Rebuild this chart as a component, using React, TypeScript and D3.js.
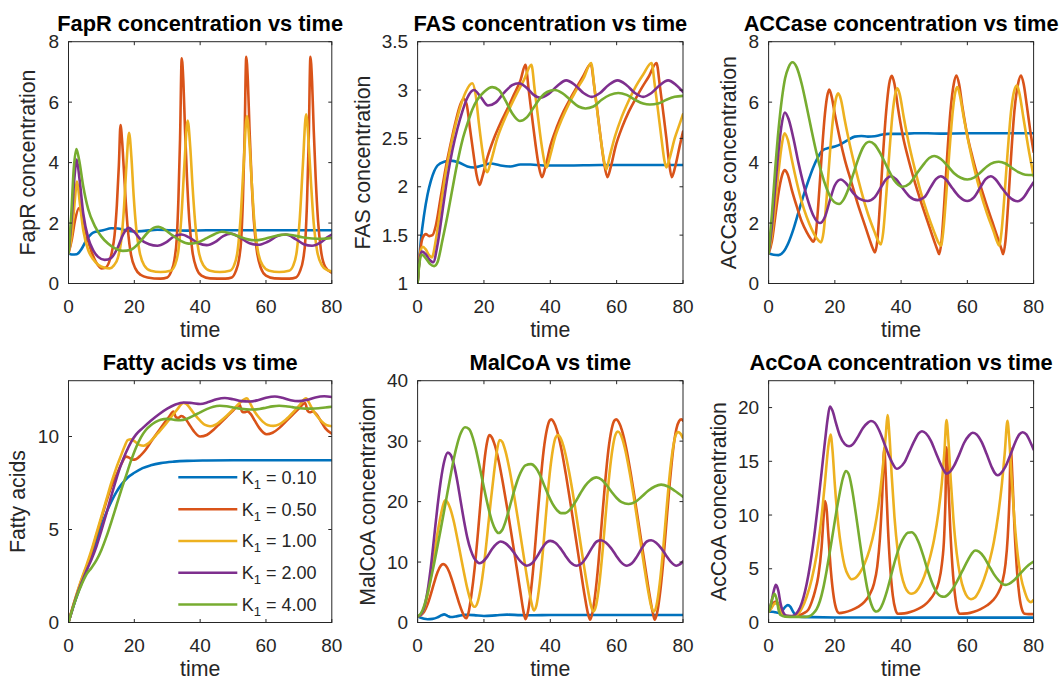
import React from 'react';
import * as d3 from 'd3';

type Pt = [number, number];

const COLORS = ['#0072BD', '#D95319', '#EDB120', '#7E2F8E', '#77AC30'];
const K_LABELS = ['0.10', '0.50', '1.00', '2.00', '4.00'];
const TIME_TICKS = [0, 20, 40, 60, 80];

// ---------- FapR ----------
const faprK010: Pt[] = [[0,1.0],[1,0.96],[2.5,0.97],[4,1.15],[5.5,1.45],[7,1.65],[8.5,1.72],[10.5,1.76],[13,1.83],[15,1.82],[17,1.77],[20,1.72],[23,1.74],[27,1.78],[31,1.76],[36,1.75],[42,1.76],[50,1.76],[60,1.76],[70,1.76],[80,1.76]];
const faprK050: Pt[] = [[0,1.0],[1,1.45],[2,2.1],[3.2,2.5],[4.3,2.2],[5.5,1.6],[7,1.05],[8.5,0.68],[10,0.5],[11.2,0.52],[12.3,0.7],[13.2,1.05],[14,1.6],[14.7,2.6],[15.3,3.9],[15.8,5.24],[16.3,4.7],[16.8,3.8],[17.4,2.7],[18.1,1.7],[19,0.95],[20.3,0.5],[22,0.28],[24,0.2],[28,0.16],[30,0.2],[31.2,0.4],[32.2,0.8],[32.9,1.5],[33.4,2.8],[33.9,4.8],[34.4,7.45],[34.9,6.7],[35.4,5.1],[36,3.5],[36.7,2.1],[37.6,1.1],[38.9,0.5],[40.4,0.26],[43,0.17],[47.6,0.16],[49.6,0.2],[50.8,0.4],[51.8,0.8],[52.5,1.5],[53,2.8],[53.5,4.8],[54,7.5],[54.5,6.7],[55,5.1],[55.6,3.5],[56.3,2.1],[57.2,1.1],[58.5,0.5],[60,0.26],[62.6,0.17],[67.1,0.16],[69.1,0.2],[70.3,0.4],[71.3,0.8],[72,1.5],[72.5,2.8],[73,4.8],[73.5,7.5],[74,6.7],[74.5,5.1],[75.1,3.5],[75.8,2.1],[76.7,1.1],[78,0.55],[80,0.35]];
const faprK100: Pt[] = [[0,1.0],[1,1.6],[1.8,2.6],[2.6,3.37],[3.4,2.7],[4.5,1.75],[6,1.1],[7.5,0.8],[9,0.62],[11,0.52],[12.5,0.5],[13.8,0.6],[15,0.85],[16,1.4],[16.8,2.4],[17.6,3.9],[18.4,4.99],[19.1,4.2],[19.8,2.9],[20.6,1.8],[21.6,1.05],[23,0.6],[25,0.42],[28,0.38],[31,0.42],[32.3,0.6],[33.4,1.1],[34.3,2.2],[35.2,3.9],[36.2,5.39],[37,4.5],[37.7,3.2],[38.5,2.0],[39.5,1.1],[41,0.6],[43,0.42],[46,0.38],[49,0.42],[50.3,0.6],[51.4,1.1],[52.3,2.2],[53.2,3.9],[54.2,5.54],[55,4.6],[55.7,3.3],[56.5,2.0],[57.5,1.1],[59,0.6],[61,0.42],[64,0.38],[67,0.42],[68.3,0.6],[69.4,1.1],[70.3,2.2],[71.2,3.9],[72.2,5.6],[73,4.6],[73.7,3.3],[74.5,2.0],[75.5,1.1],[77,0.6],[78.5,0.45],[80,0.4]];
const faprK200: Pt[] = [[0,1.0],[1,2.2],[1.8,3.5],[2.5,4.1],[3.3,3.5],[4.5,2.3],[6,1.5],[7.5,1.1],[9,0.88],[11,0.78],[13,0.85],[15,1.2],[16.5,1.6],[18.2,1.84],[20,1.7],[22,1.45],[24.5,1.3],[27,1.25],[29.5,1.35],[32,1.55],[34.3,1.62],[37,1.5],[39.5,1.33],[42,1.27],[44.5,1.37],[47,1.57],[49.3,1.65],[52,1.53],[55,1.33],[57.7,1.28],[60.5,1.38],[63.5,1.57],[66,1.62],[69,1.47],[71.5,1.3],[74,1.25],[76.5,1.35],[78.5,1.52],[80,1.62]];
const faprK400: Pt[] = [[0,1.0],[0.8,2.2],[1.6,3.8],[2.4,4.45],[3.2,4.1],[4.5,3.2],[6,2.45],[8,1.9],[10,1.55],[12,1.32],[14,1.17],[16.5,1.08],[19,1.12],[21.5,1.35],[24,1.68],[26,1.85],[27.3,1.88],[29,1.8],[31.5,1.6],[34,1.42],[36.5,1.32],[39,1.35],[42,1.5],[44.5,1.64],[46.6,1.71],[49,1.66],[52,1.55],[54.5,1.46],[56.7,1.43],[59,1.46],[62,1.55],[64.5,1.61],[66.3,1.62],[68.5,1.59],[71,1.53],[74,1.49],[77,1.48],[80,1.51]];

// ---------- FAS ----------
const fasK010: Pt[] = [[0,1.0],[0.5,1.25],[1,1.45],[2,1.72],[3,1.92],[4,2.06],[5,2.16],[6,2.22],[8,2.26],[10,2.27],[12.5,2.25],[15,2.21],[17,2.2],[19.5,2.22],[22,2.24],[25,2.22],[28,2.21],[31,2.23],[34,2.23],[38,2.22],[45,2.22],[55,2.225],[80,2.225]];
const fasK050: Pt[] = [[0,1.0],[0.7,1.3],[1.5,1.47],[2.5,1.51],[3.5,1.49],[4.5,1.5],[5.5,1.6],[7,1.9],[8.5,2.2],[10,2.45],[11.5,2.68],[13,2.86],[13.9,2.91],[14.8,2.85],[15.8,2.6],[16.8,2.35],[17.8,2.12],[18.7,2.02],[19.5,2.1],[21,2.3],[23,2.5],[25,2.66],[27,2.8],[29,2.95],[31,3.1],[32.5,3.26],[33.5,3.0],[34.5,2.72],[35.5,2.45],[36.5,2.22],[37.5,2.1],[38.5,2.2],[40,2.42],[42,2.62],[44,2.78],[46,2.91],[48,3.03],[50,3.15],[52.2,3.27],[53.2,3.05],[54.2,2.78],[55.2,2.5],[56.2,2.25],[57.2,2.1],[58.2,2.2],[59.7,2.42],[61.7,2.62],[63.7,2.78],[65.7,2.91],[67.7,3.03],[69.7,3.14],[72,3.28],[73,3.05],[74,2.78],[75,2.5],[75.8,2.25],[76.6,2.1],[77.6,2.2],[79,2.42],[80,2.57]];
const fasK100: Pt[] = [[0,1.0],[0.6,1.28],[1.5,1.38],[2.5,1.35],[3.5,1.29],[4.3,1.27],[5.5,1.45],[7,1.8],[8.5,2.15],[10,2.42],[11.5,2.65],[13,2.84],[14.5,2.98],[16.5,3.07],[17.5,2.95],[18.5,2.65],[19.5,2.38],[20.5,2.18],[21,2.15],[22,2.25],[24,2.5],[26,2.68],[28,2.83],[30,2.97],[32,3.1],[34.3,3.26],[35.3,3.0],[36.3,2.72],[37.3,2.45],[38.3,2.25],[38.9,2.2],[39.8,2.3],[41.5,2.52],[43.5,2.7],[45.5,2.85],[47.5,2.98],[50,3.12],[52.3,3.28],[53.3,3.02],[54.3,2.74],[55.3,2.47],[56.3,2.25],[56.9,2.18],[57.8,2.3],[59.5,2.52],[61.5,2.72],[63.5,2.88],[65.5,3.02],[68,3.16],[70.5,3.28],[71.5,3.05],[72.5,2.78],[73.5,2.5],[74.4,2.27],[75,2.2],[76,2.3],[77.5,2.5],[79,2.65],[80,2.75]];
const fasK200: Pt[] = [[0,1.0],[0.6,1.25],[1.3,1.33],[2.5,1.3],[3.5,1.25],[4.7,1.22],[6,1.4],[7.5,1.75],[9,2.1],[10.5,2.38],[12,2.6],[13.5,2.78],[15,2.92],[17,3.0],[19,2.93],[21.2,2.84],[23.5,2.87],[26,2.97],[28.5,3.05],[30.5,3.07],[33,3.02],[35,2.95],[37,2.92],[39.5,2.96],[42,3.04],[44.8,3.1],[47.5,3.05],[50,2.97],[52.5,2.93],[55,2.97],[57.5,3.05],[60.3,3.1],[63,3.05],[65.5,2.97],[68,2.93],[70.5,2.97],[73,3.05],[75.5,3.1],[78,3.05],[80,2.98]];
const fasK400: Pt[] = [[0,1.0],[0.6,1.22],[1.2,1.3],[2.5,1.26],[3.8,1.2],[5,1.18],[6,1.22],[7.5,1.45],[9,1.7],[10.5,1.98],[12,2.25],[13.5,2.48],[15,2.65],[16.5,2.8],[18,2.9],[20,2.98],[22.5,3.03],[24.5,3.0],[26.5,2.89],[28.5,2.76],[30.8,2.68],[33,2.72],[35,2.82],[37,2.92],[39,2.98],[41.4,3.0],[43.5,2.97],[46,2.9],[48.5,2.83],[50.6,2.81],[53,2.83],[55.5,2.9],[58,2.95],[60.5,2.97],[63,2.95],[65.5,2.9],[68,2.86],[70,2.85],[72.5,2.86],[75,2.9],[77.5,2.93],[80,2.94]];

// ---------- ACCase ----------
const accK010: Pt[] = [[0,1.0],[1.5,0.95],[3,0.94],[4.5,1.05],[6,1.35],[7.5,1.8],[9,2.35],[10.5,2.9],[12,3.4],[13.5,3.85],[15,4.2],[16.5,4.42],[18,4.48],[20,4.53],[22,4.62],[24,4.75],[26,4.86],[28,4.88],[30,4.86],[32,4.87],[34,4.92],[36,4.95],[40,4.95],[44,4.97],[48,4.97],[52,4.96],[60,4.97],[80,4.97]];
const accK050: Pt[] = [[0,1.0],[1,1.4],[2,2.2],[3,3.0],[4,3.55],[4.8,3.75],[5.8,3.6],[7,3.1],[8.5,2.55],[10,2.05],[11.5,1.7],[12.7,1.48],[13.5,1.38],[14.2,1.6],[15,2.6],[16,4.2],[17,5.6],[17.7,6.2],[18.3,6.42],[19,6.2],[20,5.6],[21.5,4.8],[23,4.1],[25,3.35],[27,2.6],[29,1.95],[30.5,1.45],[31.5,1.15],[32.1,1.03],[32.8,1.4],[33.6,2.6],[34.5,4.2],[35.5,5.7],[36.4,6.6],[37.2,6.87],[38,6.6],[39,5.85],[40.5,4.9],[42,4.2],[44,3.4],[46,2.7],[48,2.05],[50,1.4],[51,1.1],[51.5,0.97],[52.2,1.4],[53,2.6],[53.9,4.2],[54.9,5.7],[55.9,6.6],[56.7,6.88],[57.5,6.6],[58.5,5.85],[60,4.9],[61.5,4.2],[63.5,3.4],[65.5,2.7],[67.5,2.05],[69.5,1.4],[70.4,1.1],[70.8,0.97],[71.5,1.4],[72.3,2.6],[73.2,4.2],[74.2,5.7],[75.3,6.6],[76.2,6.88],[77,6.6],[78,5.85],[79,5.05],[80,4.35]];
const accK100: Pt[] = [[0,1.0],[1,1.6],[2,2.6],[3,3.7],[4,4.6],[4.8,4.97],[5.8,4.75],[7,4.1],[8.5,3.35],[10,2.7],[11.5,2.2],[13,1.8],[14.5,1.5],[15.8,1.36],[16.6,1.7],[17.5,2.8],[18.5,4.3],[19.5,5.5],[20.3,6.1],[21,6.29],[21.8,6.1],[23,5.4],[24.5,4.6],[26,3.9],[28,3.05],[30,2.3],[32,1.7],[33.2,1.38],[33.9,1.29],[34.6,1.7],[35.5,2.9],[36.5,4.4],[37.5,5.7],[38.3,6.3],[38.9,6.46],[39.6,6.25],[40.8,5.5],[42.3,4.65],[44,3.85],[46,3.0],[48,2.3],[50,1.7],[51.3,1.35],[52,1.25],[52.7,1.7],[53.6,2.9],[54.6,4.4],[55.6,5.7],[56.4,6.35],[57,6.5],[57.7,6.25],[58.9,5.5],[60.4,4.65],[62,3.85],[64,3.0],[66,2.3],[68,1.7],[69,1.38],[69.6,1.25],[70.3,1.7],[71.2,2.9],[72.2,4.4],[73.2,5.7],[74.2,6.4],[75,6.55],[75.7,6.3],[76.9,5.5],[78.4,4.5],[80,3.55]];
const accK200: Pt[] = [[0,1.0],[1,1.9],[2,3.2],[3,4.4],[4,5.3],[4.9,5.66],[6,5.45],[7.5,4.8],[9,4.0],[10.5,3.3],[12,2.7],[13.5,2.25],[15.5,2.0],[17,2.2],[18.5,2.75],[20,3.25],[21.8,3.44],[23.5,3.3],[25.5,3.0],[27.5,2.8],[29.9,2.73],[32,2.85],[34,3.2],[35.5,3.45],[36.9,3.55],[38.5,3.45],[40.5,3.15],[42.5,2.88],[45,2.76],[47,2.85],[49,3.2],[50.5,3.45],[52,3.55],[53.5,3.45],[55.5,3.15],[57.5,2.88],[60,2.73],[62,2.85],[64,3.2],[65.5,3.45],[67.1,3.55],[68.5,3.45],[70.5,3.15],[72.5,2.88],[75.2,2.72],[77,2.85],[78.5,3.1],[80,3.35]];
const accK400: Pt[] = [[0,1.0],[1,2.3],[2,3.8],[3,5.1],[4,6.1],[5,6.8],[6,7.15],[7.2,7.32],[8.5,7.15],[10,6.6],[11.5,5.85],[13,5.05],[14.5,4.3],[16,3.65],[17.5,3.15],[19,2.8],[20.5,2.65],[21.3,2.63],[22.5,2.75],[24,3.1],[25.5,3.6],[27,4.1],[28.5,4.5],[30.4,4.69],[32,4.6],[34,4.25],[36,3.8],[38,3.4],[40.4,3.2],[42.5,3.3],[44.5,3.6],[46.5,3.9],[48.5,4.15],[50,4.22],[52,4.12],[54,3.9],[56,3.65],[58,3.5],[60,3.44],[62,3.5],[64,3.68],[66,3.88],[68,4.0],[69.5,4.03],[71.5,3.97],[73.5,3.82],[75.5,3.68],[77.5,3.6],[80,3.59]];

// ---------- Fatty acids ----------
const faK010: Pt[] = [[0,0],[1,0.6],[2.5,1.4],[4,2.15],[5.5,2.85],[7,3.6],[8.5,4.4],[10,5.2],[11.5,5.9],[13,6.5],[14.5,7.0],[16,7.4],[18,7.8],[20,8.05],[22.5,8.3],[25,8.45],[28,8.57],[32,8.65],[36,8.69],[42,8.71],[50,8.72],[80,8.72]];
const faK050: Pt[] = [[0,0],[1,0.65],[2.5,1.5],[4,2.3],[5.5,3.0],[7,3.8],[8.5,4.7],[10,5.6],[11.5,6.5],[13,7.3],[14.5,7.9],[16,8.5],[17.5,8.92],[18.5,8.85],[19.5,8.75],[20.5,8.78],[22,9.0],[23.5,9.3],[25,9.7],[27,10.2],[29,10.7],[30.5,11.05],[31.9,11.34],[32.6,11.05],[33.3,11.0],[34.3,11.1],[35.3,11.0],[36.5,10.7],[38,10.3],[40,10.0],[42,10.08],[44,10.35],[46,10.7],[48,11.05],[50,11.4],[51.5,11.65],[52,11.7],[52.7,11.35],[53.4,11.3],[54.4,11.35],[55.4,11.2],[56.6,10.85],[58,10.45],[60.2,10.12],[62,10.2],[64,10.45],[66,10.8],[68,11.15],[70,11.5],[71.9,11.8],[72.6,11.4],[73.3,11.3],[74.3,11.35],[75.3,11.2],[76.6,10.85],[78,10.45],[80,10.15]];
const faK100: Pt[] = [[0,0],[1,0.65],[2.5,1.55],[4,2.35],[5.5,3.1],[7,3.9],[8.5,4.8],[10,5.7],[11.5,6.6],[13,7.5],[14.5,8.3],[16,9.0],[17,9.45],[18,9.8],[19,9.85],[20,9.75],[21.5,9.55],[22.8,9.5],[24,9.6],[25.5,9.85],[27,10.15],[29,10.55],[31,11.0],[33,11.45],[34.9,11.8],[35.8,11.75],[37,11.5],[38.5,11.15],[40,10.85],[41.5,10.62],[43,10.55],[44.5,10.62],[46,10.8],[48,11.1],[50,11.45],[52,11.8],[54.2,12.06],[55,11.85],[56,11.5],[57.5,11.1],[59,10.8],[60.5,10.62],[62.3,10.57],[64,10.65],[66,10.9],[68,11.25],[70,11.65],[72.2,12.05],[73,11.85],[74,11.5],[75.5,11.1],[77,10.8],[78.5,10.6],[80,10.55]];
const faK200: Pt[] = [[0,0],[1,0.6],[2.5,1.45],[4,2.15],[5.5,2.8],[7,3.4],[8.5,4.1],[10,4.95],[11.5,5.85],[13,6.8],[14.5,7.7],[16,8.5],[17.5,9.15],[19,9.7],[20.5,10.1],[22.5,10.45],[25,10.85],[27.5,11.2],[30,11.5],[32.5,11.72],[35,11.83],[37.5,11.8],[40,11.75],[42.5,11.85],[45,12.0],[47.5,12.07],[50,12.0],[52.5,11.9],[55,11.88],[57.5,11.95],[60,12.08],[62.7,12.15],[65,12.08],[67.5,11.95],[70,11.9],[72.5,11.97],[75,12.1],[77.7,12.16],[80,12.12]];
const faK400: Pt[] = [[0,0],[1,0.6],[2.5,1.4],[4,2.05],[5.5,2.6],[7,2.95],[8.5,3.35],[10,3.9],[11.5,4.6],[13,5.4],[14.5,6.25],[16,7.1],[17.5,7.9],[19,8.7],[20.5,9.4],[22,9.95],[23.5,10.35],[25,10.6],[26.5,10.78],[28,10.9],[30,10.95],[32,10.9],[34,10.87],[36,10.95],[38,11.12],[40,11.3],[42,11.47],[44,11.6],[46,11.65],[48,11.63],[50,11.56],[52,11.5],[54,11.46],[56.2,11.45],[58,11.48],[60,11.55],[62,11.62],[64,11.65],[66,11.63],[68,11.58],[70,11.53],[72,11.5],[74,11.5],[76,11.52],[78,11.56],[80,11.6]];

// ---------- MalCoA ----------
const malK010: Pt[] = [[0,1.0],[1,0.8],[2,0.62],[3,0.55],[4.5,0.6],[6,0.85],[7.2,1.2],[8,1.35],[9,1.1],[10,0.9],[12,1.05],[14.5,1.28],[17,1.22],[20,1.08],[23.5,1.18],[27,1.3],[31,1.22],[35,1.2],[40,1.25],[50,1.25],[60,1.25],[80,1.25]];
const malK050: Pt[] = [[0,1.0],[1,1.2],[2,1.8],[3,3.0],[4,4.7],[5,6.6],[6,8.3],[7,9.4],[7.7,9.65],[8.5,9.4],[9.5,8.4],[10.5,6.8],[11.5,5.0],[12.5,3.2],[13.5,1.7],[14.3,0.8],[14.7,0.7],[15.3,1.5],[16.2,4.5],[17.2,9.0],[18.3,15.5],[19.3,22],[20.3,27.5],[21,30.0],[21.6,31.0],[22.3,30.7],[23.3,29.3],[24.5,26.6],[25.8,22.8],[27.2,18.3],[28.6,13.5],[30,8.6],[31,5.0],[31.8,2.2],[32.5,0.55],[33.2,1.6],[34,4.5],[35,9.8],[36,16.5],[37,23],[38,28.5],[39,32],[39.8,33.4],[40.3,33.6],[41,33.2],[42,31.8],[43.3,28.8],[44.7,24.5],[46.2,19.3],[47.7,13.9],[49.2,8.5],[50.4,4.3],[51.3,1.6],[52,0.45],[52.7,1.6],[53.5,4.5],[54.5,9.8],[55.5,16.5],[56.5,23],[57.5,28.5],[58.5,32],[59.3,33.4],[59.9,33.6],[60.6,33.2],[61.6,31.8],[62.9,28.8],[64.3,24.5],[65.8,19.3],[67.3,13.9],[68.8,8.5],[70,4.3],[70.9,1.6],[71.5,0.45],[72.2,1.6],[73,4.5],[74,9.8],[75,16.5],[76,23],[77,28.5],[78,32],[78.8,33.3],[79.5,33.6],[80,33.4]];
const malK100: Pt[] = [[0,1.0],[1,1.3],[2,2.3],[3,4.5],[4,7.6],[5,11.2],[6,14.8],[7,17.8],[7.8,19.6],[8.3,20.2],[9,19.9],[10,18.6],[11,16.5],[12,13.8],[13,11.0],[14,8.2],[15,5.6],[16,3.6],[16.8,2.7],[17.3,2.6],[18,3.2],[19,5.6],[20,9.5],[21,14.5],[22,19.8],[23,24.6],[23.8,28.0],[24.7,30.2],[25.5,29.9],[26.5,28.3],[27.7,25.3],[29,21.3],[30.5,16.2],[32,10.9],[33.2,6.7],[34.2,3.6],[35,2.0],[35.8,2.8],[36.8,6.5],[37.8,12],[38.8,18.5],[39.8,24.5],[40.8,28.7],[41.6,30.6],[42.3,31.0],[43.1,30.5],[44.3,28.5],[45.7,24.8],[47.2,20],[48.7,14.6],[50.2,9.2],[51.4,5.2],[52.3,2.7],[53,1.8],[53.8,2.8],[54.8,6.5],[55.8,12],[56.8,18.5],[57.8,24.5],[58.8,28.9],[59.6,31.0],[60.4,31.6],[61.2,31.1],[62.4,29.0],[63.8,25.2],[65.3,20.3],[66.8,14.8],[68.3,9.3],[69.5,5.2],[70.4,2.7],[71.2,1.8],[72,2.8],[73,6.5],[74,12],[75,18.5],[76,24.5],[77,28.9],[77.8,31.0],[78.5,31.5],[79.3,31.2],[80,30.5]];
const malK200: Pt[] = [[0,1.0],[1,1.3],[2,2.5],[3,5.2],[4,9.2],[5,14.2],[6,19.2],[7,23.5],[8,26.6],[9.1,28.1],[10,27.7],[11,26.0],[12,23.3],[13,20.0],[14,16.8],[15,14.0],[16,12.0],[17,10.7],[18,10.0],[18.6,9.8],[19.5,10.0],[21,10.9],[22.5,12.2],[24,13.1],[25,13.4],[26.5,13.1],[28,12.3],[29.5,11.2],[31,10.1],[32.9,9.4],[34.5,9.8],[36,10.9],[37.5,12.3],[39,13.3],[40,13.5],[41.5,13.2],[43,12.3],[44.5,11.1],[46,10.0],[48,9.4],[49.5,9.8],[51,10.9],[52.5,12.3],[54,13.4],[55.3,13.6],[56.8,13.2],[58.3,12.3],[59.8,11.1],[61.3,10.0],[63.1,9.4],[64.6,9.8],[66.1,10.9],[67.6,12.3],[69.1,13.4],[70.4,13.6],[71.9,13.2],[73.4,12.3],[74.9,11.1],[76.4,10.0],[78,9.4],[79,9.6],[80,10.1]];
const malK400: Pt[] = [[0,1.0],[1,1.5],[2,2.8],[3,4.8],[4,7.2],[5,9.8],[6,12.6],[7,15.5],[8,18.5],[9,21.5],[10,24.5],[11,27.3],[12,29.6],[13,31.3],[14.3,32.3],[15.5,32.0],[16.5,30.8],[17.5,28.8],[18.5,26.3],[19.5,23.6],[20.5,21.0],[21.5,18.6],[22.5,16.6],[23.5,15.3],[24.4,14.8],[25.5,15.3],[26.5,16.7],[27.5,18.6],[28.5,20.6],[29.5,22.5],[30.5,24.1],[31.5,25.3],[32.5,26.0],[34.2,26.2],[35.5,25.7],[36.8,24.5],[38,22.9],[39.3,21.2],[40.6,19.7],[42,18.6],[43.2,18.1],[44.5,18.1],[46,18.7],[47.5,19.9],[49,21.3],[50.5,22.6],[52,23.5],[53.9,24.0],[55.5,23.6],[57,22.7],[58.5,21.6],[60,20.6],[61.5,19.9],[63.6,19.6],[65.5,19.9],[67.5,20.8],[69.5,21.8],[71.5,22.5],[73.4,22.8],[75.5,22.5],[77.5,21.8],[80,20.8]];

// ---------- AcCoA ----------
const acK010: Pt[] = [[0,1.0],[1,1.0],[2,0.95],[3,0.9],[4,1.05],[5,1.45],[5.8,1.62],[6.6,1.45],[7.5,0.95],[8.5,0.6],[10,0.52],[13,0.5],[20,0.47],[30,0.46],[50,0.45],[80,0.45]];
const acK050: Pt[] = [[0,1.0],[0.8,1.4],[1.6,1.85],[2.4,1.95],[3.2,1.5],[4,0.9],[5,0.62],[7,0.58],[9,0.65],[10.5,0.85],[12,1.2],[13,1.9],[14,2.9],[15,4.3],[16,7.0],[16.6,9.8],[17,11.3],[17.5,10.6],[18,8.3],[18.8,4.8],[19.7,2.3],[20.5,1.2],[21.3,0.87],[23,0.95],[25,1.15],[27,1.45],[29,1.95],[30.5,2.6],[31.8,3.6],[32.8,5.2],[33.6,7.8],[34.3,11.8],[34.9,16.2],[35.4,13.5],[36,9.0],[36.7,5.2],[37.5,2.5],[38.3,1.2],[39,0.82],[41,0.85],[43,1.0],[45,1.25],[47,1.6],[48.5,2.05],[50,2.7],[51.3,3.7],[52.3,5.4],[53,8.0],[53.4,11.5],[53.7,16.3],[54.2,13.5],[54.8,9.0],[55.5,5.2],[56.3,2.5],[57,1.2],[57.7,0.82],[60,0.85],[62,1.0],[64,1.25],[66,1.6],[67.7,2.05],[69.2,2.7],[70.5,3.7],[71.5,5.4],[72.2,8.0],[72.7,11.5],[73.1,16.2],[73.6,13.5],[74.2,9.0],[74.9,5.2],[75.7,2.5],[76.5,1.2],[77.3,0.82],[78.5,0.78],[80,0.78]];
const acK100: Pt[] = [[0,1.0],[0.8,1.3],[1.6,1.7],[2.4,1.8],[3.2,1.4],[4,0.85],[5,0.58],[7,0.55],[8.5,0.7],[10,1.3],[11.5,2.4],[13,4.0],[14.5,6.3],[15.8,9.3],[17,13.0],[18,16.3],[18.7,17.5],[19.3,16.0],[20,12.8],[21,9.2],[22,6.8],[23,5.2],[24,4.4],[25,4.03],[26,4.1],[27.5,4.6],[29,5.5],[30.5,6.8],[32,8.7],[33.3,11.2],[34.5,14.5],[35.4,17.5],[35.9,19.3],[36.5,17.3],[37.2,13.5],[38,9.8],[39,6.6],[40,4.6],[41.2,3.3],[42.2,2.8],[43,2.67],[44,2.75],[45.5,3.3],[47,4.3],[48.5,5.8],[50,7.8],[51.3,10.3],[52.3,13.0],[53.1,16.0],[53.7,18.85],[54.3,16.8],[55,13.2],[55.8,9.6],[56.8,6.4],[57.8,4.4],[59,3.0],[60.1,2.35],[61.1,2.17],[62.2,2.3],[63.5,2.9],[65,4.0],[66.5,5.5],[68,7.5],[69.3,10.0],[70.4,12.8],[71.3,15.8],[72.1,18.76],[72.7,16.8],[73.4,13.2],[74.2,9.6],[75.2,6.3],[76.2,4.2],[77.4,2.8],[78.3,2.1],[79.2,1.9],[80,2.1]];
const acK200: Pt[] = [[0,1.0],[0.8,1.8],[1.6,3.0],[2.2,3.5],[2.9,3.0],[3.6,1.8],[4.5,0.9],[5.5,0.62],[7,0.6],[8,0.72],[9,1.1],[10,1.8],[11,2.9],[12,4.4],[13,6.3],[14,8.6],[15,11.2],[16,14.0],[17,16.8],[17.8,18.9],[18.5,20.1],[19.3,19.7],[20.3,18.6],[21.5,17.4],[23,16.6],[24.3,16.4],[25.5,16.6],[27,17.3],[28.5,18.1],[30,18.6],[30.9,18.75],[32,18.6],[33.5,17.8],[35,16.6],[36.5,15.4],[37.8,14.6],[38.6,14.3],[39.5,14.4],[41,14.9],[42.5,15.9],[44,16.9],[45.3,17.6],[46.3,17.8],[47.5,17.6],[49,16.9],[50.5,15.8],[52,14.7],[53,14.1],[53.7,13.85],[54.5,13.95],[56,14.6],[57.5,15.6],[59,16.7],[60.5,17.4],[61.6,17.65],[62.8,17.5],[64.3,16.8],[65.8,15.7],[67.3,14.5],[68.3,13.9],[69.1,13.7],[70,13.85],[71.5,14.5],[73,15.6],[74.5,16.8],[75.7,17.5],[76.7,17.7],[77.8,17.5],[79,16.8],[80,16.1]];
const acK400: Pt[] = [[0,1.0],[0.6,1.6],[1.2,2.3],[1.8,2.67],[2.4,2.2],[3,1.2],[3.6,0.7],[5,0.55],[8,0.52],[11,0.52],[12.3,0.58],[13.5,0.85],[14.5,1.25],[15.5,2.0],[16.5,3.2],[17.5,4.8],[18.5,6.6],[19.5,8.5],[20.5,10.4],[21.5,12.1],[22.4,13.4],[23.3,14.1],[24.2,13.8],[25.2,12.4],[26.3,10.2],[27.5,7.6],[28.7,5.1],[29.9,3.0],[31,1.7],[32,1.1],[32.6,1.02],[33.5,1.2],[34.5,1.8],[35.7,2.9],[37,4.4],[38.3,5.9],[39.7,7.2],[41,8.0],[42,8.35],[43.2,8.4],[44.3,8.1],[45.5,7.3],[46.8,6.1],[48.2,4.7],[49.6,3.5],[51,2.7],[52,2.45],[53,2.4],[54,2.55],[55.5,3.1],[57,3.9],[58.5,4.8],[60,5.7],[61.3,6.4],[62.4,6.7],[63.5,6.6],[65,6.1],[66.5,5.3],[68,4.5],[69.5,3.9],[70.6,3.6],[71.6,3.5],[72.6,3.6],[74,3.9],[75.5,4.4],[77,4.9],[78.5,5.35],[80,5.67]];

const TITLES = ['FapR concentration vs time', 'FAS concentration vs time', 'ACCase concentration vs time', 'Fatty acids vs time', 'MalCoA vs time', 'AcCoA concentration vs time'];
const YLABELS = ['FapR concentration', 'FAS concentration', 'ACCase concentration', 'Fatty acids', 'MalCoA concentration', 'AcCoA concentration'];
const YDOMAINS: [number, number][] = [[0, 8], [1, 3.5], [0, 8], [0, 13], [0, 40], [0, 22.5]];
const YTICKS = [[0, 2, 4, 6, 8], [1, 1.5, 2, 2.5, 3, 3.5], [0, 2, 4, 6, 8], [0, 5, 10], [0, 10, 20, 30, 40], [0, 5, 10, 15, 20]];
const SERIES: Pt[][][] = [
  [faprK010, faprK050, faprK100, faprK200, faprK400],
  [fasK010, fasK050, fasK100, fasK200, fasK400],
  [accK010, accK050, accK100, accK200, accK400],
  [faK010, faK050, faK100, faK200, faK400],
  [malK010, malK050, malK100, malK200, malK400],
  [acK010, acK050, acK100, acK200, acK400],
];

// layout
const COL_LEFT = [68.5, 417.6, 768.6];
const COL_WIDTH = [263.3, 265.4, 265.0];
const ROW_TOP = [41.7, 380.7];
const ROW_HEIGHT = 241.8;
const YLABEL_OFFSET = [34, 48, 32.5, 44, 42.3, 42.8];
const FONT = '"Liberation Sans", Arial, Helvetica, sans-serif';
const AXIS_COLOR = '#262626';
const TICK_LEN = 3.5;

function Panel({ idx }: { idx: number }) {
  const col = idx % 3;
  const row = Math.floor(idx / 3);
  const left = COL_LEFT[col];
  const width = COL_WIDTH[col];
  const top = ROW_TOP[row];
  const bottom = top + ROW_HEIGHT;
  const right = left + width;
  const x = d3.scaleLinear().domain([0, 80]).range([left, right]);
  const y = d3.scaleLinear().domain(YDOMAINS[idx]).range([bottom, top]);
  const line = d3.line<Pt>().x(d => x(d[0])).y(d => y(d[1])).curve(d3.curveMonotoneX);
  const clipId = `clip${idx}`;
  const cx = (left + right) / 2;
  const cy = (top + bottom) / 2;
  const ylx = left - YLABEL_OFFSET[idx];
  return (
    <g>
      <defs>
        <clipPath id={clipId}>
          <rect x={left} y={top} width={width} height={ROW_HEIGHT} />
        </clipPath>
      </defs>
      <rect x={left} y={top} width={width} height={ROW_HEIGHT} fill="#fff" />
      <g clipPath={`url(#${clipId})`}>
        {SERIES[idx].map((s, i) => (
          <path key={i} d={line(s) || ''} fill="none" stroke={COLORS[i]} strokeWidth={2.6}
            strokeLinejoin="round" strokeLinecap="round" />
        ))}
      </g>
      <rect x={left} y={top} width={width} height={ROW_HEIGHT} fill="none" stroke={AXIS_COLOR} strokeWidth={1} />
      {TIME_TICKS.map(t => (
        <g key={'x' + t}>
          <line x1={x(t)} x2={x(t)} y1={bottom} y2={bottom - TICK_LEN} stroke={AXIS_COLOR} />
          <line x1={x(t)} x2={x(t)} y1={top} y2={top + TICK_LEN} stroke={AXIS_COLOR} />
          <text x={x(t)} y={bottom + 29} textAnchor="middle" fontSize={19} fill={AXIS_COLOR} fontFamily={FONT}>{t}</text>
        </g>
      ))}
      {YTICKS[idx].map(v => (
        <g key={'y' + v}>
          <line x1={left} x2={left + TICK_LEN} y1={y(v)} y2={y(v)} stroke={AXIS_COLOR} />
          <line x1={right} x2={right - TICK_LEN} y1={y(v)} y2={y(v)} stroke={AXIS_COLOR} />
          <text x={left - 9.5} y={y(v)} dy="0.35em" textAnchor="end" fontSize={19} fill={AXIS_COLOR} fontFamily={FONT}>{String(v)}</text>
        </g>
      ))}
      <text x={cx} y={top - 10.5} textAnchor="middle" fontSize={21.8} fontWeight="bold" fill="#000" fontFamily={FONT}>{TITLES[idx]}</text>
      <text x={cx} y={bottom + 53.5} textAnchor="middle" fontSize={21.3} fill={AXIS_COLOR} fontFamily={FONT}>time</text>
      <text transform={`translate(${ylx},${cy}) rotate(-90)`} textAnchor="middle" fontSize={21.3} fill={AXIS_COLOR} fontFamily={FONT}>{YLABELS[idx]}</text>
    </g>
  );
}

function Legend() {
  const x0 = 178.3;
  const x1 = 237.3;
  const rows = [477.3, 509.3, 541, 572.8, 604.5];
  return (
    <g>
      {K_LABELS.map((k, i) => (
        <g key={k}>
          <line x1={x0} x2={x1} y1={rows[i]} y2={rows[i]} stroke={COLORS[i]} strokeWidth={2.6} />
          <text x={x1 + 4.5} y={rows[i]} dy="0.35em" fontSize={18} fill={AXIS_COLOR} fontFamily={FONT}>
            K<tspan fontSize={13} dy="5">1</tspan><tspan dy="-5"> = {k}</tspan>
          </text>
        </g>
      ))}
    </g>
  );
}

export default function App() {
  return (
    <svg width={1060} height={681} style={{ position: 'absolute', left: 0, top: 0, background: '#fff' }}>
      <rect x={0} y={0} width={1060} height={681} fill="#fff" />
      {[0, 1, 2, 3, 4, 5].map(i => <Panel key={i} idx={i} />)}
      <Legend />
    </svg>
  );
}
